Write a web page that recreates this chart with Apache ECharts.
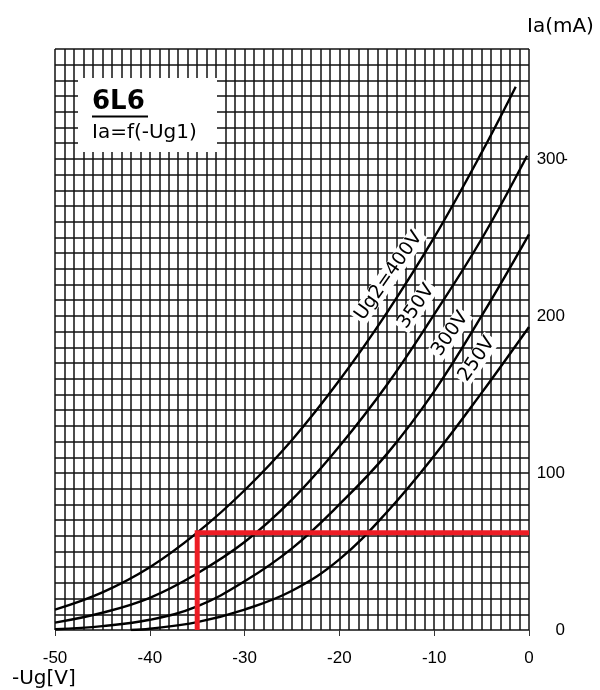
<!DOCTYPE html>
<html>
<head>
<meta charset="utf-8">
<title>6L6 Ia=f(-Ug1)</title>
<script src="https://cdn.jsdelivr.net/npm/echarts/dist/echarts.min.js"></script>
<style>
  html, body { margin: 0; padding: 0; background: #fff; }
  #chart { width: 600px; height: 690px; }
</style>
</head>
<body>
<div id="chart"></div>
<script>
// Grid voltage (V) and anode current (mA) for each screen voltage Ug2
const ug400 = [-50, -45, -40, -35, -30, -25, -20, -15, -10, -5, -1.4];
const ia400 = [13, 24, 40, 62, 89, 121, 159, 202, 250, 304, 346];

const ug350 = [-50, -45, -40, -35, -30, -25, -20, -15, -10, -5, -0.2];
const ia350 = [4.7, 11, 20.5, 36, 56, 83, 117, 156, 201, 249, 302];

const ug300 = [-50, -45, -40, -35, -30, -25, -20, -15, -10, -5, 0];
const ia300 = [0.5, 2.5, 6.5, 15, 31, 52, 80, 112, 152, 200, 252];

const ug250 = [-42, -40, -35, -30, -25, -20, -15, -10, -5, 0];
const ia250 = [0, 0.8, 5, 13, 25, 45, 75, 111, 151, 193];

// Operating point guide: -35 V grid bias, 62 mA anode current
const guideUg = [-35, -35, 0];
const guideIa = [0, 62, 62];

// Curve captions: text, grid voltage, anode current
const curveNames = ['Ug2=400V', '350V', '300V', '250V'];
const captionUg = [-14.8, -11.9, -8.3, -5.5];
const captionIa = [225.5, 206, 188.5, 172.5];

// Axis tick labels
const xTickValues = [-50, -40, -30, -20, -10, 0];
const xTickLabels = ['-50', '-40', '-30', '-20', '-10', '0'];
const yTickValues = [0, 100, 200, 300];
const yTickLabels = ['0', '100', '200', '300-'];

const zip = (xs, ys) => xs.map((x, i) => [x, ys[i]]);

const chart = echarts.init(document.getElementById('chart'), null, { renderer: 'canvas' });

const gridColor = '#111';
const gridWidth = 1.5;
const tickFont = 'Liberation Sans';

const curveSeries = [
  [ug400, ia400], [ug350, ia350], [ug300, ia300], [ug250, ia250]
].map((pair, i) => ({
  name: curveNames[i],
  type: 'line',
  xAxisIndex: 0,
  yAxisIndex: 0,
  data: zip(pair[0], pair[1]),
  smooth: 0.4,
  showSymbol: false,
  symbol: 'none',
  lineStyle: { color: '#000', width: 2.4 },
  z: 3,
  silent: true
}));

const option = {
  animation: false,
  backgroundColor: '#fff',
  grid: { left: 55, right: 71, top: 49, bottom: 60, containLabel: false },
  xAxis: [
    {
      type: 'value', min: -50, max: 0, interval: 1,
      axisLine: { show: false }, axisTick: { show: false }, axisLabel: { show: false },
      splitLine: { show: true, lineStyle: { color: gridColor, width: gridWidth } }
    },
    {
      type: 'value', min: -50, max: 0, interval: 10, position: 'bottom',
      axisLine: { show: false },
      axisTick: { show: true, length: 6, lineStyle: { color: '#333', width: 1 } },
      splitLine: { show: false },
      axisLabel: {
        show: true, margin: 20, color: '#000', fontSize: 17, fontFamily: tickFont,
        formatter: v => {
          const k = xTickValues.indexOf(v);
          return k >= 0 ? xTickLabels[k] : '';
        }
      }
    }
  ],
  yAxis: [
    {
      type: 'value', min: 0, max: 370, interval: 10, position: 'right',
      axisLine: { show: false }, axisTick: { show: false }, axisLabel: { show: false },
      splitLine: { show: true, lineStyle: { color: gridColor, width: gridWidth } }
    },
    {
      type: 'value', min: 0, max: 370, interval: 100, position: 'right',
      axisLine: { show: false }, axisTick: { show: false }, splitLine: { show: false },
      axisLabel: {
        show: true, margin: 36, align: 'right', verticalAlign: 'middle',
        color: '#000', fontSize: 17, fontFamily: tickFont,
        formatter: v => {
          const k = yTickValues.indexOf(v);
          if (k < 0) return '';
          const t = yTickLabels[k];
          return t.endsWith('-') ? t.slice(0, -1) + '{d|-}' : t;
        },
        rich: {
          d: { width: 0, align: 'left', fontSize: 17, fontFamily: tickFont, color: '#000' }
        }
      }
    }
  ],
  series: [
    ...curveSeries,
    {
      name: 'guide',
      type: 'line',
      data: zip(guideUg, guideIa),
      smooth: false,
      symbol: 'none',
      lineStyle: { color: '#ed1c24', width: 5, cap: 'butt', join: 'miter' },
      z: 4,
      silent: true
    }
  ],
  graphic: [
    {
      type: 'rect', shape: { x: 78, y: 78, width: 139, height: 74 },
      style: { fill: '#fff' }, z: 10
    },
    {
      type: 'text', x: 92, y: 102, z: 11,
      style: { text: '6L6', font: 'bold 26px "DejaVu Sans"', fill: '#000', align: 'left', verticalAlign: 'middle' }
    },
    {
      type: 'line', shape: { x1: 92, y1: 116.5, x2: 148, y2: 116.5 }, z: 11,
      style: { stroke: '#000', lineWidth: 2 }
    },
    {
      type: 'text', x: 92, y: 133, z: 11,
      style: { text: 'Ia=f(-Ug1)', font: '20px "DejaVu Sans"', fill: '#000', align: 'left', verticalAlign: 'middle' }
    },
    {
      type: 'text', x: 527, y: 27, z: 11,
      style: { text: 'Ia(mA)', font: '20px "DejaVu Sans"', fill: '#000', align: 'left', verticalAlign: 'middle' }
    },
    {
      type: 'text', x: 12, y: 679, z: 11,
      style: { text: '-Ug[V]', font: '20px "DejaVu Sans"', fill: '#000', align: 'left', verticalAlign: 'middle' }
    }
  ]
};

chart.setOption(option);

// Curve captions, placed through the grid's own coordinate conversion
const captionGraphics = curveNames.map((name, i) => {
  const p = chart.convertToPixel({ gridIndex: 0 }, [captionUg[i], captionIa[i]]);
  return {
    type: 'text', x: p[0], y: p[1], rotation: 55 * Math.PI / 180, z: 12,
    style: {
      text: name, font: '19px "DejaVu Sans"', fill: '#000',
      align: 'center', verticalAlign: 'middle',
      backgroundColor: '#fff', padding: [0, 2]
    }
  };
});
chart.setOption({ graphic: option.graphic.concat(captionGraphics) });
</script>
</body>
</html>
